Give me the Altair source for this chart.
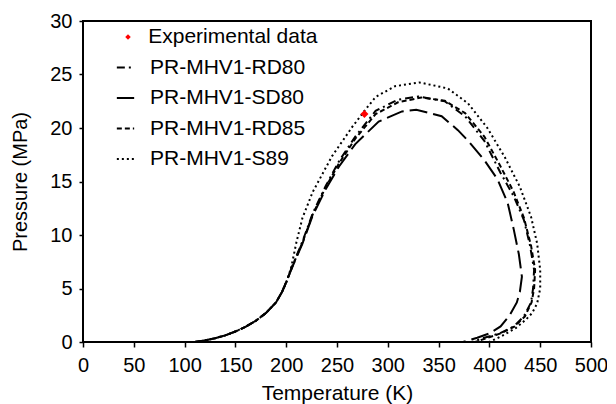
import altair as alt
import pandas as pd

# Shared lower (bubble) branch of the phase envelopes
base_T = [110, 120, 130, 140, 150, 160, 170, 180, 190, 196]
base_P = [0.0, 0.15, 0.35, 0.62, 0.98, 1.42, 1.98, 2.7, 3.7, 4.7]

# Upper parts of each envelope (Temperature K, Pressure MPa)
rd80_T = [200, 206, 216, 226, 239, 252, 268, 288, 310, 330, 356, 376, 395, 411, 424, 434, 440, 444, 443, 441, 434, 424, 410, 395, 383]
rd80_P = [5.6, 7.1, 9.4, 12.0, 14.6, 16.9, 19.2, 21.6, 22.65, 22.95, 22.5, 21.1, 18.8, 15.8, 13.6, 11.4, 9.0, 6.75, 5.0, 3.7, 2.4, 1.46, 0.8, 0.4, 0.0]

sd80_T = [200, 206, 216, 226, 239, 252, 268, 291, 314, 328, 353, 369, 380, 395, 408, 418, 424, 429, 432, 430, 427, 420, 411, 400, 388, 374]
sd80_P = [5.6, 7.0, 9.2, 11.8, 14.3, 16.4, 18.5, 20.6, 21.55, 21.7, 21.1, 19.8, 18.7, 17.0, 15.2, 13.0, 10.5, 8.2, 6.1, 4.7, 3.7, 2.5, 1.46, 0.8, 0.4, 0.0]

rd85_T = [200, 206, 216, 226, 239, 252, 268, 288, 310, 333, 356, 376, 395, 411, 424, 434, 441, 445, 444, 441.5, 435, 425, 411, 397, 386]
rd85_P = [5.6, 7.05, 9.3, 11.9, 14.5, 16.7, 19.0, 21.3, 22.4, 22.85, 22.55, 21.4, 19.2, 16.4, 14.0, 11.6, 9.0, 6.75, 5.0, 3.7, 2.4, 1.46, 0.8, 0.35, 0.0]

s89_T = [200, 205, 210, 216, 226, 245, 265, 277, 288, 307, 331, 359, 379, 398, 415, 430, 441, 447, 450, 450, 447, 442, 436, 426, 412, 400]
s89_P = [5.5, 7.0, 9.3, 11.6, 14.0, 17.35, 20.1, 21.6, 22.9, 23.9, 24.26, 23.7, 22.3, 20.0, 17.3, 14.5, 11.7, 9.2, 6.75, 5.0, 3.6, 2.7, 2.1, 1.3, 0.55, 0.0]

series_names = ["PR-MHV1-RD80", "PR-MHV1-SD80", "PR-MHV1-RD85", "PR-MHV1-S89"]
dash_patterns = [[8, 4, 2, 4], [18, 6], [5, 3], [2, 3]]

exp_T = [277]
exp_P = [21.3]
exp_label = ["Experimental data"]

rows = []
for name, T, P in zip(series_names, [rd80_T, sd80_T, rd85_T, s89_T], [rd80_P, sd80_P, rd85_P, s89_P]):
    allT = base_T + T
    allP = base_P + P
    for i, (t, p) in enumerate(zip(allT, allP)):
        rows.append({"series": name, "T": t, "P": p, "idx": i})
lines_df = pd.DataFrame(rows)
exp_df = pd.DataFrame({"T": exp_T, "P": exp_P, "label": exp_label})

FONT = "Liberation Sans"

x = alt.X("T:Q", scale=alt.Scale(domain=[0, 500], nice=False),
          axis=alt.Axis(title="Temperature (K)", values=list(range(0, 501, 50)),
                        tickSize=5, labelPadding=8, titlePadding=7, labelFlush=False,
                        titleFontSize=21))
y = alt.Y("P:Q", scale=alt.Scale(domain=[0, 30], nice=False),
          axis=alt.Axis(title="Pressure (MPa)", values=list(range(0, 31, 5)),
                        tickSize=4, labelPadding=7, titlePadding=19, labelFlush=False))

lines = alt.Chart(lines_df).mark_line(color="black", strokeWidth=2).encode(
    x=x, y=y,
    order="idx:Q",
    detail="series:N",
    strokeDash=alt.StrokeDash(
        "series:N",
        scale=alt.Scale(domain=series_names, range=dash_patterns),
        legend=alt.Legend(title=None, orient="none", legendX=32, legendY=36,
                          symbolType="stroke", symbolSize=300, symbolStrokeWidth=2,
                          symbolStrokeColor="black", labelFontSize=21, labelFont=FONT,
                          labelColor="black", labelOffset=14, rowPadding=8.5, padding=0,
                          labelLimit=400),
    ),
)

points = alt.Chart(exp_df).mark_point(shape="diamond", filled=True, size=64, opacity=1).encode(
    x="T:Q", y="P:Q",
    color=alt.Color(
        "label:N",
        scale=alt.Scale(domain=exp_label, range=["#ff0000"]),
        legend=alt.Legend(title=None, orient="none", legendX=34.5, legendY=5.5,
                          symbolType="diamond", symbolSize=30, labelFontSize=21,
                          labelFont=FONT, labelColor="black", labelOffset=9.7,
                          padding=0, symbolOpacity=1, labelLimit=400),
    ),
)

chart = alt.layer(lines, points).properties(
    width=508, height=321,
    autosize=alt.AutoSizeParams(type="none"),
    padding={"left": 75, "top": 13, "right": 16, "bottom": 62},
).configure_view(
    stroke="black", strokeWidth=2
).configure_axis(
    grid=False, domain=False,
    labelFont=FONT, titleFont=FONT, labelFontSize=20, titleFontSize=20,
    titleFontWeight="normal", labelColor="black", titleColor="black",
    tickColor="black", tickWidth=1.5,
)

chart.save("out.html", embed_options={"renderer": "svg", "actions": False})
